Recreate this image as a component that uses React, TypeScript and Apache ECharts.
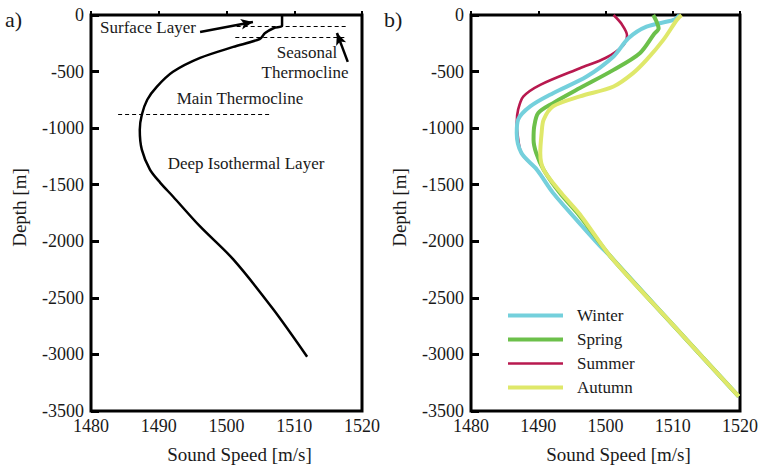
import React, { useEffect, useRef } from "react";
import * as echarts from "echarts";

// ---- data (sound speed [m/s], depth [m]) ----
const speedTicks = [1480, 1490, 1500, 1510, 1520];
const depthTicks = [0, -500, -1000, -1500, -2000, -2500, -3000, -3500];

const typicalProfile: [number, number][] = [
  [1508.2, 0], [1508.2, -95], [1507.0, -115], [1505.7, -160], [1504.9, -212],
  [1501.0, -282], [1496.1, -379], [1492.1, -502], [1489.7, -635], [1488.3, -749],
  [1487.5, -882], [1487.2, -1014], [1487.5, -1190], [1488.7, -1366], [1490.2, -1481],
  [1492.1, -1604], [1496.1, -1869], [1501.0, -2160], [1506.9, -2601], [1511.9, -3020],
];

const seasonNames = ["Winter", "Spring", "Summer", "Autumn"];

const winter: [number, number][] = [
  [1511.0, 0], [1510.1, -44], [1506.1, -103], [1503.4, -206], [1501.2, -367],
  [1497.2, -544], [1492.2, -691], [1488.8, -808], [1487.0, -926], [1486.8, -1043],
  [1487.5, -1220], [1489.8, -1367], [1492.2, -1572], [1495.2, -1778], [1499.2, -2043],
  [1500.7, -2131], [1510.2, -2750], [1519.8, -3370],
];
const spring: [number, number][] = [
  [1507.1, 0], [1507.6, -60], [1507.9, -117], [1507.2, -170], [1505.1, -338],
  [1501.2, -485], [1496.2, -646], [1492.2, -779], [1490.0, -867], [1489.4, -985],
  [1489.3, -1102], [1489.7, -1220], [1490.8, -1367], [1493.2, -1572], [1496.2, -1778],
  [1500.7, -2131], [1510.2, -2750], [1519.8, -3370],
];
const summer: [number, number][] = [
  [1501.2, 0], [1502.4, -80], [1503.2, -180], [1502.6, -270], [1500.0, -380],
  [1496.2, -470], [1490.3, -617], [1487.8, -720], [1487.0, -838], [1486.8, -950],
  [1486.9, -1043], [1487.5, -1220], [1489.8, -1367], [1492.2, -1572], [1495.2, -1778],
  [1499.2, -2043], [1500.7, -2131], [1510.2, -2750], [1519.8, -3370],
];
const autumn: [number, number][] = [
  [1511.3, 0], [1510.6, -44], [1508.6, -220], [1506.1, -397], [1504.1, -514],
  [1501.2, -632], [1496.2, -720], [1492.2, -808], [1490.8, -926], [1490.5, -1043],
  [1490.3, -1220], [1490.8, -1367], [1493.4, -1572], [1496.4, -1778], [1500.7, -2131],
  [1510.2, -2750], [1519.8, -3370],
];

// layer boundaries (depth) and arrows in panel a)
const surfaceBoundary = { depth: -100, from: 1501.5, to: 1517.8 };
const seasonalBoundary = { depth: -200, from: 1501.3, to: 1517.5 };
const mainBoundary = { depth: -880, from: 1484.0, to: 1506.4 };
const surfaceArrow: [number, number][] = [[1496.1, -150], [1503.9, -62]];
const seasonalArrow: [number, number][] = [[1517.9, -414], [1516.3, -159]];

const FONT = "Liberation Serif";
const TXT = "#1a1a1a";

export default function App() {
  const ref = useRef<HTMLDivElement>(null);
  useEffect(() => {
    if (!ref.current) return;
    const chart = echarts.init(ref.current, null, { renderer: "svg" });

    const xAxes = [0, 1].map((i) => ({
      type: "value",
      gridIndex: i,
      min: speedTicks[0],
      max: speedTicks[speedTicks.length - 1],
      interval: speedTicks[1] - speedTicks[0],
      name: "Sound Speed [m/s]",
      nameLocation: "middle",
      nameGap: 34,
      nameTextStyle: { fontSize: 19, color: TXT, fontFamily: FONT, padding: [0, 0, 0, 26] },
      axisLine: { show: false },
      axisTick: { inside: true, length: 4, lineStyle: { color: "#000", width: 2 } },
      axisLabel: { fontSize: 18, color: TXT, fontFamily: FONT, margin: 6, formatter: (v: number) => String(v) },
      splitLine: { show: false },
    }));
    const yAxes = [0, 1].map((i) => ({
      type: "value",
      gridIndex: i,
      min: depthTicks[depthTicks.length - 1],
      max: depthTicks[0],
      interval: depthTicks[0] - depthTicks[1],
      name: "Depth [m]",
      nameLocation: "middle",
      nameGap: 62,
      nameTextStyle: { fontSize: 19, color: TXT, fontFamily: FONT, padding: [0, 0, 0, 11] },
      axisLine: { show: false },
      axisTick: { inside: true, length: 8, lineStyle: { color: "#000", width: 3 } },
      axisLabel: { fontSize: 18, color: TXT, fontFamily: FONT, margin: 7, formatter: (v: number) => String(v) },
      splitLine: { show: false },
    }));

    const dashed = { type: [4, 3], color: "#000", width: 1.2 };
    const arrowStyle = { type: "solid", color: "#000", width: 2.5 };
    const seasonColors = ["#74d0dc", "#6cc04a", "#b8194f", "#dfe86a"];
    const seasonWidths = [4, 4, 2.6, 4];
    const seasonData = [winter, spring, summer, autumn];
    const seasonZ = [3, 4, 2, 5];

    const option: any = {
      animation: false,
      backgroundColor: "#fff",
      textStyle: { fontFamily: FONT },
      grid: [
        { left: 91, top: 15, width: 271, height: 397, show: true, borderColor: "#000", borderWidth: 3, backgroundColor: "transparent" },
        { left: 471, top: 15, width: 269, height: 397, show: true, borderColor: "#000", borderWidth: 3, backgroundColor: "transparent" },
      ],
      xAxis: xAxes,
      yAxis: yAxes,
      legend: {
        data: seasonNames.map((n, i) => ({
          name: n,
          icon: i === 2 ? "path://M0 0H55V2.6H0Z" : "path://M0 0H55V4H0Z",
        })),
        orient: "vertical",
        left: 503,
        top: 302,
        itemWidth: 55,
        itemHeight: 14,
        itemGap: 7,
        textStyle: { fontSize: 17, color: TXT, fontFamily: FONT, padding: [0, 0, 0, 9] },
      },
      series: [
        {
          name: "Typical profile",
          type: "line",
          xAxisIndex: 0,
          yAxisIndex: 0,
          data: typicalProfile,
          smooth: 0.3,
          symbol: "none",
          lineStyle: { color: "#000", width: 2.5 },
          z: 3,
          markLine: {
            silent: true,
            symbol: ["none", "none"],
            label: { show: false },
            lineStyle: dashed,
            data: [
              [{ coord: [surfaceBoundary.from, surfaceBoundary.depth] }, { coord: [surfaceBoundary.to, surfaceBoundary.depth] }],
              [{ coord: [seasonalBoundary.from, seasonalBoundary.depth] }, { coord: [seasonalBoundary.to, seasonalBoundary.depth] }],
              [{ coord: [mainBoundary.from, mainBoundary.depth] }, { coord: [mainBoundary.to, mainBoundary.depth] }],
              [
                { coord: surfaceArrow[0], symbol: "none", lineStyle: arrowStyle },
                { coord: surfaceArrow[1], symbol: "arrow", symbolSize: [8, 12] },
              ],
              [
                { coord: seasonalArrow[0], symbol: "none", lineStyle: arrowStyle },
                { coord: seasonalArrow[1], symbol: "arrow", symbolSize: [8, 12] },
              ],
            ],
          },
        },
        ...seasonNames.map((n, i) => ({
          name: n,
          type: "line",
          xAxisIndex: 1,
          yAxisIndex: 1,
          data: seasonData[i],
          smooth: 0.3,
          symbol: "none",
          color: seasonColors[i],
          lineStyle: { color: seasonColors[i], width: seasonWidths[i] },
          z: seasonZ[i],
        })),
      ],
      graphic: [
        { type: "text", left: 5, top: 8, style: { text: "a)", fontSize: 22, fill: TXT, fontFamily: FONT } },
        { type: "text", left: 384, top: 8, style: { text: "b)", fontSize: 22, fill: TXT, fontFamily: FONT } },
        { type: "text", x: 148, y: 27, style: { text: "Surface Layer", fontSize: 17, fill: TXT, fontFamily: FONT, align: "center", verticalAlign: "middle" } },
        { type: "text", x: 307, y: 52, style: { text: "Seasonal", fontSize: 17, fill: TXT, fontFamily: FONT, align: "center", verticalAlign: "middle" } },
        { type: "text", x: 305, y: 72, style: { text: "Thermocline", fontSize: 17, fill: TXT, fontFamily: FONT, align: "center", verticalAlign: "middle" } },
        { type: "text", x: 240, y: 98, style: { text: "Main Thermocline", fontSize: 17, fill: TXT, fontFamily: FONT, align: "center", verticalAlign: "middle" } },
        { type: "text", x: 246, y: 163, style: { text: "Deep Isothermal Layer", fontSize: 17, fill: TXT, fontFamily: FONT, align: "center", verticalAlign: "middle" } },
      ],
    };
    chart.setOption(option);
    return () => chart.dispose();
  }, []);
  return (
    <div
      ref={ref}
      style={{ position: "fixed", left: 0, top: 0, width: 766, height: 469, background: "#fff" }}
    />
  );
}
